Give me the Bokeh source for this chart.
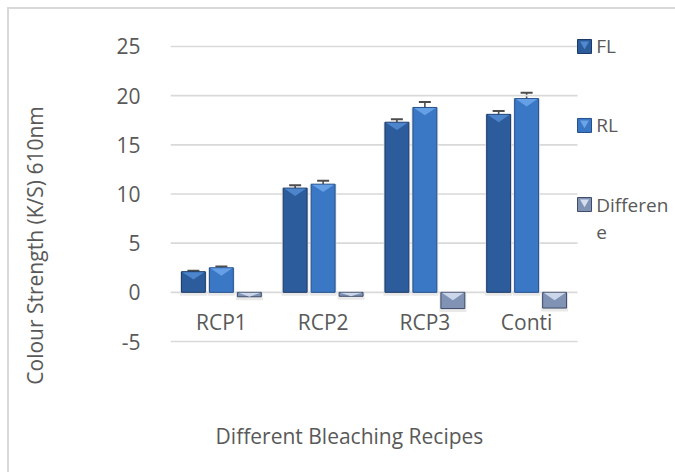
import numpy as np
from bokeh.plotting import figure
from bokeh.models import Range1d, FixedTicker, ColumnDataSource, Whisker, TeeHead
from bokeh.core.properties import value
from bokeh.embed import file_html
from bokeh.resources import INLINE

# ---- data ----
categories = ["RCP1", "RCP2", "RCP3", "Conti"]
series_names = ["FL", "RL", "Differen\ne"]
fl = [2.1, 10.6, 17.3, 18.1]
rl = [2.5, 11.0, 18.8, 19.7]
diff = [-0.45, -0.4, -1.65, -1.6]
fl_err = [0.1, 0.3, 0.3, 0.35]
rl_err = [0.12, 0.35, 0.55, 0.6]
y_ticks = [-5, 0, 5, 10, 15, 20, 25]
y_tick_labels = {-5: "-5", 0: "0", 5: "5", 10: "10", 15: "15", 20: "20", 25: "25"}

# ---- styling ----
FONT = "Open Sans"
FS = "21px"
LEG_FS = "19px"
TXT = "#595959"
GRID = "#d9d9d9"
fills = ["#2d5c9c", "#3a77c5", "#8093b4"]
lines = ["#1b3965", "#234f8a", "#3d4b68"]
bevels = ["#5089d2", "#6aa3e8", "#d3deef"]
offsets = [-0.275, 0.0, 0.275]
bar_w = 0.235
bevel_depth = 0.8

n = len(categories)
cat_x = [i + 0.5 for i in range(n)]

W, H = 672, 465
p = figure(width=W, height=H, output_backend="svg", toolbar_location=None,
           x_range=Range1d(0, 511 / 101.75), y_range=Range1d(-17.10, 26.627),
           min_border_left=161, min_border_right=0, min_border_top=21, min_border_bottom=14)
p.styles = {"margin-left": "9px", "margin-top": "9px",
            "box-shadow": "-2px -2px 0px 0px #d9d9d9"}
p.outline_line_color = None
p.background_fill_color = "white"
p.border_fill_color = "white"
p.xgrid.visible = False
p.ygrid.visible = False
p.xaxis.visible = False

yax = p.yaxis[0]
yax.ticker = FixedTicker(ticks=y_ticks)
yax.major_label_overrides = y_tick_labels
yax.axis_line_color = None
yax.major_tick_line_color = None
yax.minor_tick_line_color = None
yax.major_label_standoff = 24
yax.major_label_text_font = FONT
yax.major_label_text_font_size = FS
yax.major_label_text_color = TXT
yax.axis_label = "Colour Strength (K/S) 610nm"
yax.axis_label_text_font = FONT
yax.axis_label_text_font_size = FS
yax.axis_label_text_font_style = "normal"
yax.axis_label_text_color = TXT
yax.axis_label_standoff = 64

# gridlines spanning the categories only
p.segment(x0=[0] * len(y_ticks), x1=[n] * len(y_ticks), y0=y_ticks, y1=y_ticks,
          line_color=GRID, line_width=1.6)

series = [fl, rl, diff]
errs = [fl_err, rl_err, None]
for s, vals in enumerate(series):
    xs = [cx + offsets[s] for cx in cat_x]
    p.vbar(x=xs, top=[v if v > 0 else 0 for v in vals], bottom=[min(v, 0) - 0.35 for v in vals],
           width=bar_w + 0.03, fill_color="#e4e4e4", line_color=None, fill_alpha=0.8)
    p.vbar(x=xs, top=[max(v, 0) for v in vals], bottom=[min(v, 0) for v in vals],
           width=bar_w, fill_color=fills[s], line_color=lines[s], line_width=1)
    pxs, pys = [], []
    for x, v in zip(xs, vals):
        top = max(v, 0)
        d = min(bevel_depth, abs(v))
        pxs.append([x - bar_w / 2 + 0.01, x + bar_w / 2 - 0.01, x])
        pys.append([top - 0.05, top - 0.05, top - d])
    p.patches(xs=pxs, ys=pys, fill_color=bevels[s], line_color=None, fill_alpha=0.9)
    if errs[s] is not None:
        src = ColumnDataSource(dict(base=xs, upper=[v + e for v, e in zip(vals, errs[s])],
                                    lower=[v - e for v, e in zip(vals, errs[s])]))
        wk = Whisker(source=src, base="base", upper="upper", lower="lower", dimension="height",
                     line_color="#4d4d4d", line_width=1.6,
                     upper_head=TeeHead(size=12, line_color="#4d4d4d", line_width=2),
                     lower_head=TeeHead(size=12, line_color="#4d4d4d", line_width=2))
        p.add_layout(wk)

p.text(x=cat_x, y=[-3.05] * n, text=categories, text_font=value(FONT), text_font_size=FS,
       text_color=TXT, text_align="center", text_baseline="middle")

p.text(x=[1.759], y=[-14.56], text=["Different Bleaching Recipes"], text_font=value(FONT),
       text_font_size=FS, text_color=TXT, text_align="center", text_baseline="middle")

leg_x = 4.069
leg_y = [25.0, 16.97, 8.93]
p.scatter(x=[leg_x] * 3, y=leg_y, marker="square", size=14, fill_color=fills, line_color=lines)
p.scatter(x=[leg_x] * 3, y=[y + 0.25 for y in leg_y], marker="inverted_triangle", size=9,
          fill_color=bevels, line_color=None)
lt, lx, ly, lo = [], [], [], []
for i, lab in enumerate(series_names):
    for j, line in enumerate(lab.split("\n")):
        lt.append(line); lx.append(leg_x + 0.115); ly.append(leg_y[i]); lo.append(28 * j)
p.text(x=lx, y=ly, text=lt, y_offset=lo, text_font=value(FONT), text_font_size=LEG_FS,
       text_color=TXT, text_align="left", text_baseline="middle")

html = file_html(p, INLINE)
html = html.replace("</head>", "<style>html, body { overflow: hidden; }</style></head>", 1)
open("out.html", "w").write(html)
